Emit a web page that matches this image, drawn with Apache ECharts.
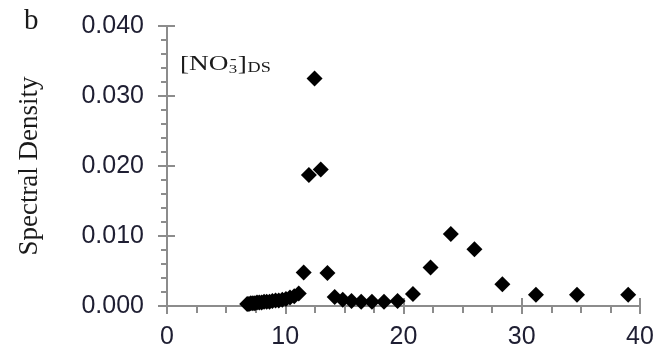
<!DOCTYPE html>
<html>
<head>
<meta charset="utf-8">
<script src="https://cdn.jsdelivr.net/npm/echarts@6/dist/echarts.min.js"></script>
<style>
  html, body { margin: 0; padding: 0; background: #fff; }
  #chart { width: 657px; height: 351px; }
</style>
</head>
<body>
<div id="chart"></div>
<script>
// Period (x) and spectral density (y) of the nitrate series
const periods = [
  6.78, 6.93, 7.09, 7.26, 7.43, 7.61, 7.80, 8.00, 8.21, 8.43,
  8.67, 8.91, 9.18, 9.45, 9.75, 10.06, 10.40, 10.76, 11.14, 11.56,
  12.00, 12.48, 13.00, 13.57, 14.18, 14.86, 15.60, 16.42, 17.33, 18.35,
  19.50, 20.80, 22.29, 24.00, 26.00, 28.36, 31.20, 34.67, 39.00
];
const density = [
  0.0003, 0.0003, 0.0004, 0.0004, 0.0004, 0.0005, 0.0005, 0.0005, 0.0006, 0.0006,
  0.0006, 0.0007, 0.0008, 0.0008, 0.0009, 0.0010, 0.0012, 0.0014, 0.0018, 0.0048,
  0.0187, 0.0325, 0.0195, 0.0047, 0.0013, 0.0009, 0.0007, 0.0006, 0.0006, 0.0006,
  0.0007, 0.0017, 0.0055, 0.0103, 0.0081, 0.0031, 0.0016, 0.0016, 0.0016
];
const xTicks = { min: 0, max: 40, interval: 10 };
const yTicks = { min: 0, max: 0.04, interval: 0.01 };

const points = periods.map((p, i) => [p, density[i]]);

const axisGray = '#8c8c8c';
const labelColor = '#1e1e32';
const ink = '#1a1a1a';
const sans = '"Liberation Sans", Arial, sans-serif';
const serif = '"Liberation Serif", "Times New Roman", serif';

const chart = echarts.init(document.getElementById('chart'), null, { renderer: 'canvas' });

const baseX = {
  type: 'value', min: xTicks.min, max: xTicks.max, interval: xTicks.interval,
  position: 'bottom', splitLine: { show: false }
};
const baseY = {
  type: 'value', min: yTicks.min, max: yTicks.max, interval: yTicks.interval,
  position: 'left', splitLine: { show: false }
};

// small helper for the pieces of the species label
function piece(text, x, y, size) {
  return {
    type: 'text', x: x, y: y,
    style: { text: text, fill: ink, font: size + 'px ' + serif, verticalAlign: 'top' }
  };
}

chart.setOption({
  animation: false,
  backgroundColor: '#ffffff',
  grid: { left: 167, right: 17, top: 26, bottom: 45, containLabel: false },
  xAxis: [
    Object.assign({}, baseX, {
      axisLine: { show: true, onZero: false, lineStyle: { color: axisGray, width: 2 } },
      axisTick: { show: true, inside: false, length: 8, lineStyle: { color: axisGray, width: 2 } },
      minorTick: { show: true, splitNumber: 4, length: 7, lineStyle: { color: axisGray, width: 2 } },
      axisLabel: { color: labelColor, fontFamily: sans, fontSize: 25, margin: 19 }
    }),
    // upper half of the crossing major ticks
    Object.assign({}, baseX, {
      axisLine: { show: false, onZero: false },
      axisTick: { show: true, inside: true, length: 8, lineStyle: { color: axisGray, width: 2 } },
      axisLabel: { show: false }
    })
  ],
  yAxis: [
    Object.assign({}, baseY, {
      axisLine: { show: true, onZero: false, lineStyle: { color: axisGray, width: 2 } },
      axisTick: { show: true, inside: false, length: 9, lineStyle: { color: axisGray, width: 2 } },
      minorTick: { show: true, splitNumber: 5, length: 6, lineStyle: { color: axisGray, width: 2 } },
      axisLabel: {
        color: labelColor, fontFamily: sans, fontSize: 25, margin: 23,
        formatter: v => v.toFixed(3)
      },
      name: 'Spectral Density',
      nameLocation: 'middle',
      nameGap: 124,
      nameRotate: 90,
      nameTextStyle: { color: ink, fontFamily: serif, fontSize: 27 }
    }),
    // right half of the crossing major ticks
    Object.assign({}, baseY, {
      axisLine: { show: false, onZero: false },
      axisTick: { show: true, inside: true, length: 8, lineStyle: { color: axisGray, width: 2 } },
      axisLabel: { show: false }
    })
  ],
  graphic: [
    {
      type: 'text', left: 24, top: 7,
      style: { text: 'b', fill: ink, font: '29px ' + serif }
    },
    {
      // [NO3-]DS with the charge stacked over the subscript
      type: 'group', x: 180, y: 54, scaleX: 1.3, scaleY: 1,
      children: [
        piece('[NO', 0, 0, 21),
        piece('3', 37.5, 9, 13),
        piece('-', 38.5, -2, 15),
        piece(']', 44.5, 0, 21),
        piece('DS', 52, 7, 14)
      ]
    }
  ],
  series: [{
    type: 'scatter',
    xAxisIndex: 0, yAxisIndex: 0,
    data: points,
    symbol: 'diamond',
    symbolSize: 16,
    itemStyle: { color: '#000000', opacity: 1 }
  }]
});
</script>
</body>
</html>
